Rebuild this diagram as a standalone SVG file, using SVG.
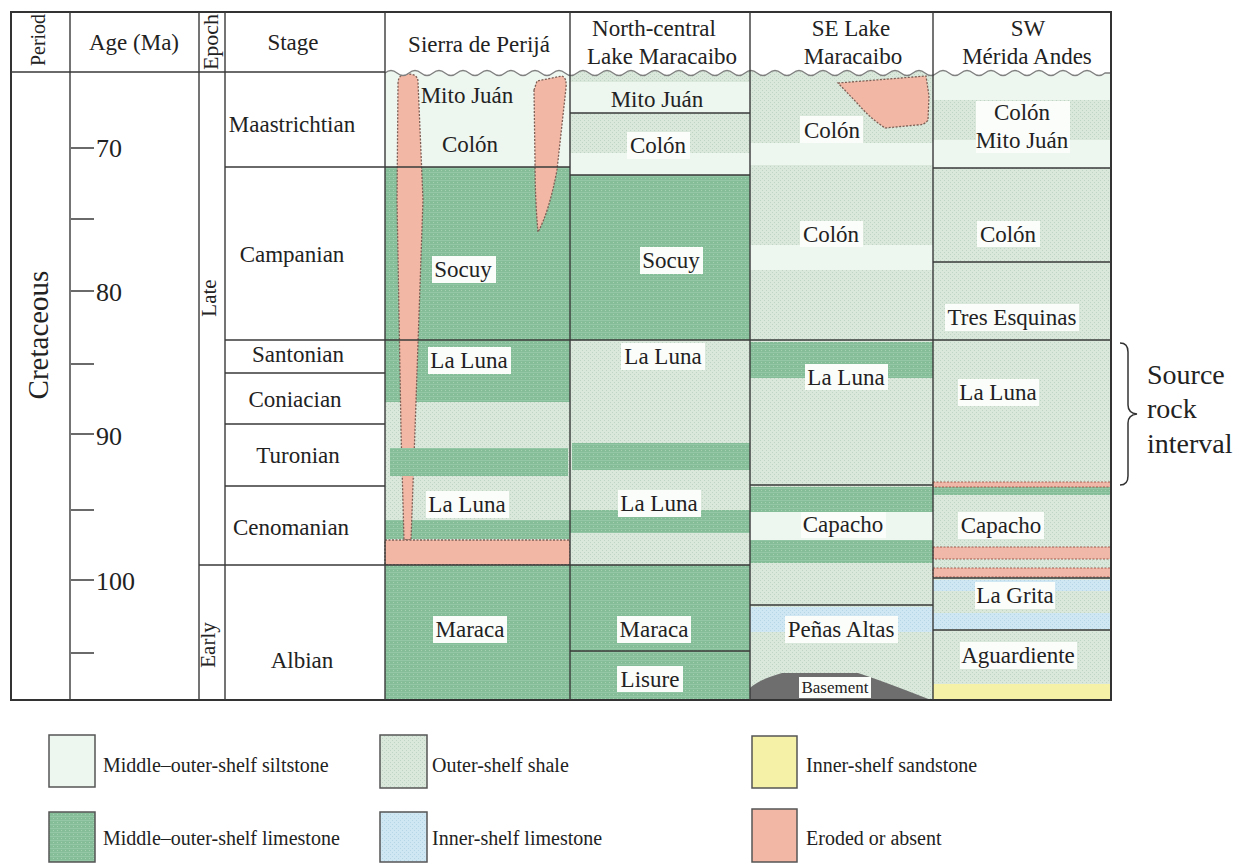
<svg xmlns="http://www.w3.org/2000/svg" width="1241" height="865" viewBox="0 0 1241 865">
<style>
text{font-family:"Liberation Serif","Times New Roman",serif;fill:#222}
.t{font-size:23px;text-anchor:middle}
.rot{font-size:21px;text-anchor:middle}
.age{font-size:26px}
.lg{font-size:20px}
.src{font-size:28px}
.ln{stroke:#3a3a3a;stroke-width:1.4;fill:none}
.box{fill:#fbfdfb}
.silt{fill:#eef6f0}
.sh{fill:url(#pSh)}
.li{fill:url(#pLi)}
.bl{fill:url(#pBl)}
.ye{fill:#f5f1a6}
.ero{fill:#f3b8a5;stroke:#7d5e55;stroke-width:1.3;stroke-dasharray:2 1.5}
.pk{fill:#f0b8a8;stroke:#a0584c;stroke-width:1;stroke-dasharray:2 1.5}
.lgb{stroke:#555;stroke-width:1.5}
</style>
<defs>
<pattern id="pSh" width="4" height="4" patternUnits="userSpaceOnUse"><rect width="4" height="4" fill="#d9e8db"/><rect x="0" y="0" width="1" height="1" fill="#bfd4c3"/><rect x="2" y="2" width="1" height="1" fill="#bfd4c3"/></pattern>
<pattern id="pLi" width="4" height="4" patternUnits="userSpaceOnUse"><rect width="4" height="4" fill="#84bd97"/><rect x="0" y="0" width="4" height="1" fill="#94c7a5"/><rect x="1" y="2" width="1" height="1" fill="#a6d1b3"/></pattern>
<pattern id="pBl" width="4" height="4" patternUnits="userSpaceOnUse"><rect width="4" height="4" fill="#cfe7f3"/><rect x="0" y="0" width="1" height="1" fill="#b6d6e6"/><rect x="2" y="2" width="1" height="1" fill="#b6d6e6"/></pattern>
</defs>
<rect width="1241" height="865" fill="#fff"/>

<g id="col-sierra">
<rect x="385" y="70" width="185" height="97" class="silt"/>
<rect x="385" y="167" width="185" height="235" class="li"/>
<rect x="385" y="402" width="185" height="163" class="sh"/>
<rect x="385" y="520" width="185" height="19" class="li"/>
<path class="ero" d="M398,84 C398,76 402,74 408,74 C414,74 418,76 418,82 L423,200 L415,430 L411,540 L404,540 L401,430 L397,200 Z"/>
<path class="ero" d="M534,90 L537,81 L562,76 Q567,78 566,88 L557,170 Q549,212 538,232 Q535,200 535,160 Z"/>
<rect x="390" y="448" width="178" height="28" class="li"/>
<rect x="385" y="540" width="185" height="25" class="ero"/>
<rect x="385" y="565" width="185" height="135" class="li"/>
<rect x="432" y="256" width="64" height="27" class="box"/>
<rect x="428" y="347" width="83" height="27" class="box"/>
<rect x="426" y="491" width="83" height="27" class="box"/>
<rect x="433" y="616" width="74" height="27" class="box"/>
<text class="t" x="467" y="103">Mito Juán</text>
<text class="t" x="470" y="152">Colón</text>
<text class="t" x="463" y="277">Socuy</text>
<text class="t" x="469" y="368">La Luna</text>
<text class="t" x="467" y="512">La Luna</text>
<text class="t" x="470" y="637">Maraca</text>
</g>

<g id="col-north-central">
<rect x="570" y="70" width="180" height="12" class="sh"/>
<rect x="570" y="82" width="180" height="31" class="silt"/>
<rect x="570" y="113" width="180" height="40" class="sh"/>
<rect x="570" y="153" width="180" height="22" class="silt"/>
<rect x="570" y="175" width="180" height="165" class="li"/>
<rect x="570" y="340" width="180" height="225" class="sh"/>
<rect x="572" y="443" width="178" height="27" class="li"/>
<rect x="570" y="510" width="180" height="23" class="li"/>
<rect x="570" y="565" width="180" height="135" class="li"/>
<rect x="627" y="132" width="63" height="27" class="box"/>
<rect x="640" y="247" width="63" height="27" class="box"/>
<rect x="621" y="343" width="84" height="27" class="box"/>
<rect x="618" y="490" width="83" height="27" class="box"/>
<rect x="617" y="616" width="74" height="27" class="box"/>
<rect x="617" y="666" width="66" height="26" class="box"/>
<text class="t" x="657" y="107">Mito Juán</text>
<text class="t" x="658" y="153">Colón</text>
<text class="t" x="671" y="268">Socuy</text>
<text class="t" x="663" y="364">La Luna</text>
<text class="t" x="659" y="511">La Luna</text>
<text class="t" x="654" y="637">Maraca</text>
<text class="t" x="650" y="687">Lisure</text>
</g>

<g id="col-se-maracaibo">
<rect x="750" y="70" width="183" height="73" class="sh"/>
<rect x="750" y="143" width="183" height="22" class="silt"/>
<rect x="750" y="165" width="183" height="80" class="sh"/>
<rect x="750" y="245" width="183" height="25" class="silt"/>
<rect x="750" y="270" width="183" height="72" class="sh"/>
<rect x="750" y="342" width="183" height="36" class="li"/>
<rect x="750" y="378" width="183" height="109" class="sh"/>
<rect x="750" y="487" width="183" height="25" class="li"/>
<rect x="750" y="512" width="183" height="28" class="silt"/>
<rect x="750" y="540" width="183" height="23" class="li"/>
<rect x="750" y="563" width="183" height="44" class="sh"/>
<rect x="750" y="607" width="183" height="25" class="bl"/>
<rect x="750" y="632" width="183" height="68" class="sh"/>
<path class="ero" d="M838,83 L926,76 L929,96 L928,120 Q925,125 917,125 L885,128 Q870,118 858,104 Z"/>
<path d="M750,700 L750,688 Q760,679 782,673 L858,673 Q880,680 931,700 Z" fill="#6e6e6e"/>
<rect x="800" y="116" width="63" height="27" class="box"/>
<rect x="800" y="221" width="63" height="26" class="box"/>
<rect x="805" y="364" width="83" height="26" class="box"/>
<rect x="801" y="512" width="85" height="26" class="box"/>
<rect x="785" y="616" width="113" height="27" class="box"/>
<rect x="799" y="677" width="72" height="21" class="box"/>
<text class="t" x="832" y="138">Colón</text>
<text class="t" x="831" y="242">Colón</text>
<text class="t" x="846" y="385">La Luna</text>
<text class="t" x="843" y="532">Capacho</text>
<text class="t" x="841" y="637">Peñas Altas</text>
<text x="835" y="693" style="font-size:17px;text-anchor:middle">Basement</text>
</g>

<g id="col-sw-merida">
<rect x="933" y="70" width="178" height="30" class="silt"/>
<rect x="933" y="100" width="178" height="40" class="sh"/>
<rect x="933" y="140" width="178" height="28" class="silt"/>
<rect x="933" y="168" width="178" height="315" class="sh"/>
<rect x="933" y="487" width="178" height="8" class="li"/>
<rect x="933" y="495" width="178" height="205" class="sh"/>
<rect x="933" y="482" width="178" height="5" class="pk"/>
<rect x="933" y="547" width="178" height="12" class="pk"/>
<rect x="933" y="568" width="178" height="9" class="pk"/>
<rect x="933" y="580" width="178" height="11" class="bl"/>
<rect x="933" y="613" width="178" height="16" class="bl"/>
<rect x="933" y="684" width="178" height="16" class="ye"/>
<rect x="976" y="101" width="94" height="52" class="box"/>
<rect x="977" y="221" width="63" height="26" class="box"/>
<rect x="945" y="304" width="134" height="27" class="box"/>
<rect x="958" y="379" width="81" height="27" class="box"/>
<rect x="958" y="512" width="86" height="27" class="box"/>
<rect x="975" y="582" width="80" height="27" class="box"/>
<rect x="960" y="642" width="117" height="27" class="box"/>
<text class="t" x="1022" y="120">Colón</text>
<text class="t" x="1022" y="148">Mito Juán</text>
<text class="t" x="1008" y="242">Colón</text>
<text class="t" x="1012" y="325">Tres Esquinas</text>
<text class="t" x="998" y="400">La Luna</text>
<text class="t" x="1001" y="533">Capacho</text>
<text class="t" x="1015" y="603">La Grita</text>
<text class="t" x="1018" y="663">Aguardiente</text>
</g>

<g id="unconformity">
<path fill="#fff" d="M385,58 L385,73 q6,-5 12,0 t12,0 t12,0 t12,0 t12,0 t12,0 t12,0 t12,0 t12,0 t12,0 t12,0 t12,0 t12,0 t12,0 t12,0 t12,0 t12,0 t12,0 t12,0 t12,0 t12,0 t12,0 t12,0 t12,0 t12,0 t12,0 t12,0 t12,0 t12,0 t12,0 t12,0 t12,0 t12,0 t12,0 t12,0 t12,0 t12,0 t12,0 t12,0 t12,0 t12,0 t12,0 t12,0 t12,0 t12,0 t12,0 t12,0 t12,0 t12,0 t12,0 t12,0 t12,0 t12,0 t12,0 t12,0 t12,0 t12,0 t12,0 t12,0 t12,0 L1111,73 L1111,58 Z"/>
<path fill="none" stroke="#808080" stroke-width="1.3" d="M385,73 q6,-5 12,0 t12,0 t12,0 t12,0 t12,0 t12,0 t12,0 t12,0 t12,0 t12,0 t12,0 t12,0 t12,0 t12,0 t12,0 t12,0 t12,0 t12,0 t12,0 t12,0 t12,0 t12,0 t12,0 t12,0 t12,0 t12,0 t12,0 t12,0 t12,0 t12,0 t12,0 t12,0 t12,0 t12,0 t12,0 t12,0 t12,0 t12,0 t12,0 t12,0 t12,0 t12,0 t12,0 t12,0 t12,0 t12,0 t12,0 t12,0 t12,0 t12,0 t12,0 t12,0 t12,0 t12,0 t12,0 t12,0 t12,0 t12,0 t12,0 t12,0 L1111,73"/>
</g>

<g id="grid">
<rect x="11" y="12" width="1100" height="688" fill="none" stroke="#333" stroke-width="2"/>
<path class="ln" d="M11,72 H385 M70,12 V700 M199,12 V700 M225,12 V700 M385,12 V700 M570,12 V700 M750,12 V700 M933,12 V700"/>
<path class="ln" d="M225,167 H570 M225,340 H1111 M225,373 H385 M225,424 H385 M225,486 H385 M199,565 H750"/>
<path class="ln" d="M570,113 H750 M570,175 H750 M570,651 H750 M750,485 H933 M750,605 H933 M933,168 H1111 M933,262 H1111 M933,578 H1111 M933,630 H1111"/>
<path class="ln" d="M71,148 H94 M71,219 H94 M71,291 H94 M71,364 H94 M71,434 H94 M71,510 H94 M71,580 H94 M71,653 H94"/>
</g>

<g id="headers">
<text class="rot" style="font-size:20px" transform="translate(45,40) rotate(-90)">Period</text>
<text class="t" x="134" y="50">Age (Ma)</text>
<text class="rot" style="font-size:22px" transform="translate(218,42) rotate(-90)">Epoch</text>
<text class="t" x="293" y="50">Stage</text>
<text class="t" x="479" y="52">Sierra de Perijá</text>
<text class="t" x="654" y="36">North-central</text>
<text class="t" x="662" y="64">Lake Maracaibo</text>
<text class="t" x="851" y="36">SE Lake</text>
<text class="t" x="853" y="64">Maracaibo</text>
<text class="t" x="1028" y="36">SW</text>
<text class="t" x="1027" y="64">Mérida Andes</text>
</g>

<g id="timescale">
<text style="font-size:29px;text-anchor:middle" transform="translate(48,335) rotate(-90)">Cretaceous</text>
<text class="age" x="96" y="157">70</text>
<text class="age" x="96" y="301">80</text>
<text class="age" x="96" y="445">90</text>
<text class="age" x="96" y="590">100</text>
<text class="rot" transform="translate(216,298) rotate(-90)">Late</text>
<text class="rot" transform="translate(215,645) rotate(-90)">Early</text>
<text class="t" x="292" y="132">Maastrichtian</text>
<text class="t" x="292" y="262">Campanian</text>
<text class="t" x="298" y="362">Santonian</text>
<text class="t" x="295" y="407">Coniacian</text>
<text class="t" x="298" y="463">Turonian</text>
<text class="t" x="291" y="535">Cenomanian</text>
<text class="t" x="302" y="668">Albian</text>
</g>

<g id="source-rock">
<path fill="none" stroke="#333" stroke-width="1.5" d="M1120,343 Q1128,343 1128,352 L1128,405 Q1128,413 1137,414 Q1128,415 1128,423 L1128,476 Q1128,485 1120,485"/>
<text class="src" x="1147" y="384">Source</text>
<text class="src" x="1147" y="418">rock</text>
<text class="src" x="1147" y="453">interval</text>
</g>

<g id="legend">
<rect x="49" y="735" width="46" height="52" class="silt lgb"/>
<text class="lg" x="103" y="772">Middle–outer-shelf siltstone</text>
<rect x="49" y="812" width="46" height="50" class="li lgb"/>
<text class="lg" x="103" y="845">Middle–outer-shelf limestone</text>
<rect x="380" y="735" width="47" height="53" class="sh lgb"/>
<text class="lg" x="432" y="772">Outer-shelf shale</text>
<rect x="380" y="812" width="47" height="50" class="bl lgb"/>
<text class="lg" x="432" y="845">Inner-shelf limestone</text>
<rect x="752" y="736" width="45" height="52" class="ye lgb"/>
<text class="lg" x="806" y="772">Inner-shelf sandstone</text>
<rect x="752" y="809" width="45" height="53" class="lgb" fill="#f3b8a5"/>
<text class="lg" x="806" y="845">Eroded or absent</text>
</g>
</svg>
